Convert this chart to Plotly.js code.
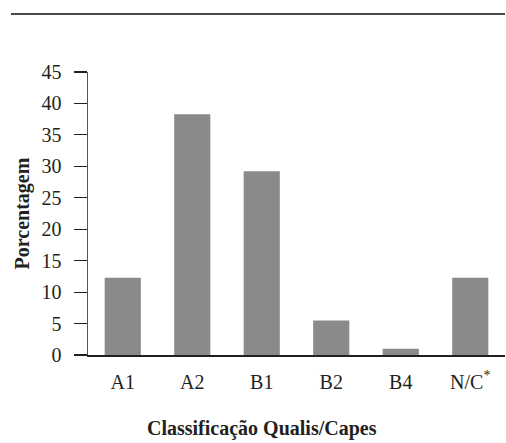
<!DOCTYPE html>
<html>
<head>
<meta charset="utf-8">
<script src="https://cdn.plot.ly/plotly-3.0.1.min.js"></script>
<style>html,body{margin:0;padding:0;background:#fff;}#chart{width:506px;height:443px;}</style>
</head>
<body>
<div id="chart"></div>
<script>
var categories = ['A1', 'A2', 'B1', 'B2', 'B4', 'N/C<sup>*</sup>'];
var values = [12.3, 38.3, 29.2, 5.5, 1.0, 12.3];
var yTickVals = [0, 5, 10, 15, 20, 25, 30, 35, 40, 45];

var fontFam = '"Liberation Serif", "DejaVu Serif", serif';
var txt = '#231F20';

var trace = {
  type: 'bar',
  x: categories,
  y: values,
  marker: {color: '#898A8C', line: {width: 0}},
  hoverinfo: 'x+y'
};

var layout = {
  width: 506,
  height: 443,
  margin: {l: 88, r: 1, t: 72, b: 88, pad: 0},
  paper_bgcolor: '#fff',
  plot_bgcolor: '#fff',
  bargap: 0.48,
  showlegend: false,
  font: {family: fontFam, size: 20, color: txt},
  xaxis: {
    type: 'category',
    showgrid: false,
    zeroline: false,
    showline: true,
    linecolor: '#231F20',
    linewidth: 1.5,
    ticks: '',
    ticklabelstandoff: 8,
    tickfont: {family: fontFam, size: 20, color: txt},
    range: [-0.5, 5.5]
  },
  yaxis: {
    range: [0, 45],
    tickvals: yTickVals,
    showgrid: false,
    zeroline: false,
    showline: true,
    linecolor: '#555',
    linewidth: 1.5,
    ticks: 'outside',
    ticklen: 13,
    tickwidth: 1.2,
    tickcolor: '#231F20',
    ticklabelstandoff: 8,
    tickfont: {family: fontFam, size: 20, color: txt},
    title: {text: '<b>Porcentagem</b>', font: {family: fontFam, size: 20, color: txt}, standoff: 6}
  },
  annotations: [{
    text: '<b>Classificação Qualis/Capes</b>',
    xref: 'paper', yref: 'paper',
    x: (262 - 88) / 417, y: (355 - 428) / 283,
    xanchor: 'center', yanchor: 'middle',
    showarrow: false,
    font: {family: fontFam, size: 20, color: txt}
  }],
  shapes: [{
    type: 'line', xref: 'paper', yref: 'paper',
    x0: (11 - 88) / 417, x1: 1.0,
    y0: (355 - 14) / 283, y1: (355 - 14) / 283,
    line: {color: '#4a4a4a', width: 2}
  }]
};

Plotly.newPlot('chart', [trace], layout, {displayModeBar: false, staticPlot: true});
</script>
</body>
</html>
